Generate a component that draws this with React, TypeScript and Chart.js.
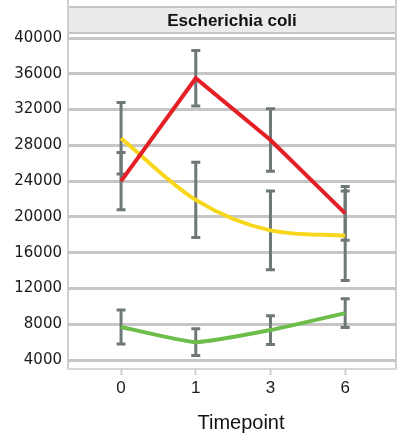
import React, { useEffect, useRef } from "react";
import { Chart, registerables } from "chart.js";

Chart.register(...registerables);

// Timepoints (categories) and y tick values
const timepoints = ["0", "1", "3", "6"];
const yTicks = [4000, 8000, 12000, 16000, 20000, 24000, 28000, 32000, 36000, 40000];
const panelTitle = "Escherichia coli";
const axisTitle = "Timepoint";

// Mean values per series
const redMeans = [24000, 35500, 28600, 20400];
const yellowMeans = [28800, 21900, 18500, 17900];
const greenMeans = [7700, 6000, 7350, 9250];

// Error (± half-range) per series
const redErr = [3200, 3100, 3500, 3000];
const yellowErr = [4000, 4200, 4400, 5000];
const greenErr = [1900, 1500, 1600, 1600];

const errorsBySeries = [redErr, yellowErr, greenErr];

const panelPlugin = {
  id: "panelStrip",
  beforeDraw(chart: any) {
    const { ctx, chartArea } = chart;
    const { left, right, bottom } = chartArea;
    ctx.save();
    // strip header
    ctx.fillStyle = "#ebebeb";
    ctx.fillRect(left, 7, right - left, 26);
    ctx.strokeStyle = "#c4c4c4";
    ctx.lineWidth = 2;
    ctx.beginPath();
    ctx.moveTo(left, 7);
    ctx.lineTo(right, 7);
    ctx.moveTo(left, 33);
    ctx.lineTo(right, 33);
    ctx.stroke();
    // panel side borders
    ctx.strokeStyle = "#cfcfcf";
    ctx.lineWidth = 2;
    ctx.beginPath();
    ctx.moveTo(left, 0);
    ctx.lineTo(left, bottom);
    ctx.moveTo(right, 0);
    ctx.lineTo(right, bottom);
    ctx.stroke();
    ctx.fillStyle = "#111";
    ctx.font = "bold 17px 'Liberation Sans', Arial, sans-serif";
    ctx.textAlign = "center";
    ctx.textBaseline = "middle";
    ctx.fillText(panelTitle, (left + right) / 2, 21);
    // x-axis title
    ctx.font = "20px 'Liberation Sans', Arial, sans-serif";
    ctx.fillText(axisTitle, 241, 423);
    ctx.restore();
  },
};

const errorBarPlugin = {
  id: "errorBars",
  beforeDatasetsDraw(chart: any) {
    const { ctx } = chart;
    const xs = chart.scales.x;
    const ys = chart.scales.y;
    ctx.save();
    ctx.strokeStyle = "#6f7878";
    ctx.lineWidth = 3;
    chart.data.datasets.forEach((ds: any, i: number) => {
      const errs = errorsBySeries[i];
      ds.data.forEach((pt: any, j: number) => {
        const x = xs.getPixelForValue(pt.x);
        const yTop = ys.getPixelForValue(pt.y + errs[j]);
        const yBot = ys.getPixelForValue(pt.y - errs[j]);
        ctx.beginPath();
        ctx.moveTo(x, yTop);
        ctx.lineTo(x, yBot);
        ctx.moveTo(x - 4.5, yTop);
        ctx.lineTo(x + 4.5, yTop);
        ctx.moveTo(x - 4.5, yBot);
        ctx.lineTo(x + 4.5, yBot);
        ctx.stroke();
      });
    });
    ctx.restore();
  },
};

const toPoints = (arr: number[]) => arr.map((v, i) => ({ x: i, y: v }));

export default function App() {
  const canvasRef = useRef<HTMLCanvasElement | null>(null);

  useEffect(() => {
    if (!canvasRef.current) return;
    const chart = new Chart(canvasRef.current, {
      type: "line",
      data: {
        datasets: [
          {
            label: "red",
            data: toPoints(redMeans),
            borderColor: "#e41f26",
            borderWidth: 4,
            pointRadius: 0,
            tension: 0,
          },
          {
            label: "yellow",
            data: toPoints(yellowMeans),
            borderColor: "#f7d61c",
            borderWidth: 4,
            pointRadius: 0,
            cubicInterpolationMode: "monotone",
          },
          {
            label: "green",
            data: toPoints(greenMeans),
            borderColor: "#6cbd4a",
            borderWidth: 4,
            pointRadius: 0,
            tension: 0.15,
          },
        ],
      },
      options: {
        responsive: false,
        animation: false,
        layout: { padding: { top: 38, left: 0, right: 4, bottom: 0 } },
        plugins: {
          legend: { display: false },
          tooltip: { enabled: false },
        },
        scales: {
          x: {
            type: "linear",
            min: -0.71,
            max: 3.68,
            afterBuildTicks: (scale: any) => {
              scale.ticks = timepoints.map((_, i) => ({ value: i }));
            },
            afterFit: (scale: any) => {
              scale.height = 71;
            },
            ticks: {
              callback: (v: any) => timepoints[v] ?? "",
              color: "#1a1a1a",
              font: { size: 17, family: "'Liberation Sans', Arial, sans-serif" },
              padding: 3,
              maxRotation: 0,
            },
            grid: {
              drawOnChartArea: false,
              drawTicks: true,
              tickLength: 6,
              tickColor: "#cfcfcf",
              tickWidth: 2,
            },
            border: { display: true, color: "#d6d6d6", width: 2 },
            title: { display: false },
          },
          y: {
            type: "linear",
            min: 3000,
            max: 40000,
            afterBuildTicks: (scale: any) => {
              scale.ticks = yTicks.map((v) => ({ value: v }));
            },
            afterFit: (scale: any) => {
              scale.width = 68;
            },
            ticks: {
              callback: (v: any) => String(v),
              color: "#1a1a1a",
              font: { size: 15, family: "'DejaVu Sans', sans-serif" },
              padding: 6,
            },
            grid: {
              color: "#c6c6c6",
              lineWidth: 3,
              drawTicks: false,
            },
            border: { display: false },
          },
        },
      },
      plugins: [panelPlugin, errorBarPlugin],
    });
    return () => chart.destroy();
  }, []);

  return (
    <div style={{ position: "fixed", left: 0, top: 0, width: 400, height: 440, background: "#fff" }}>
      <canvas ref={canvasRef} width={400} height={440} />
    </div>
  );
}
